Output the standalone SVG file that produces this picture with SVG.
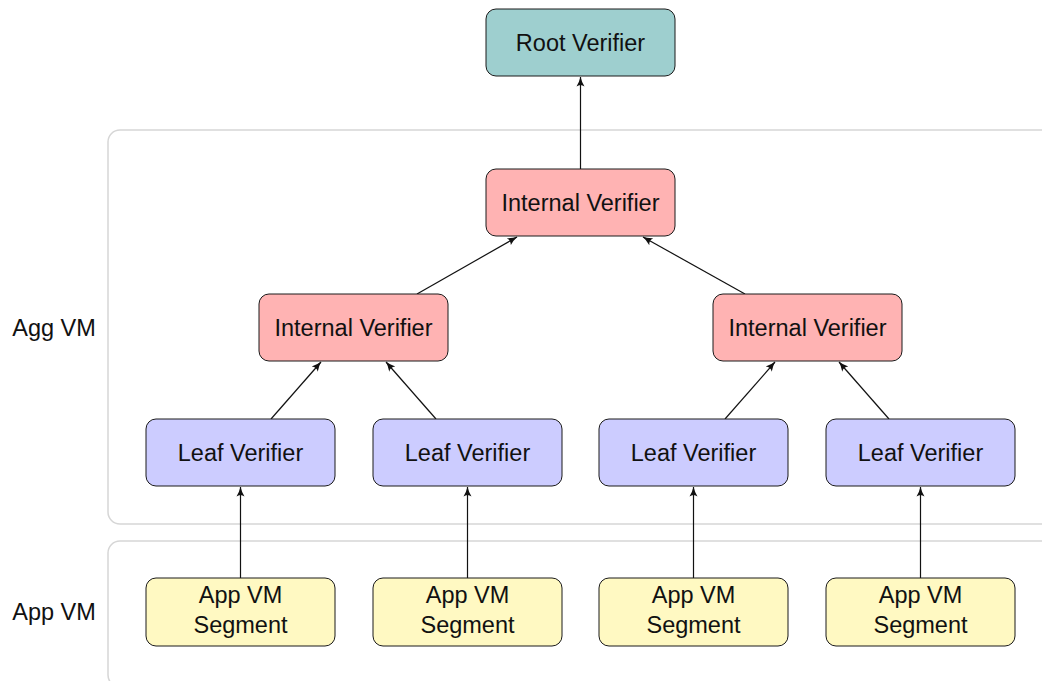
<svg xmlns="http://www.w3.org/2000/svg" width="1042" height="681" viewBox="0 0 1042 681">
<style>
.grp{fill:none;stroke:#d6d6d6;stroke-width:1.5}
.node rect{stroke:#1a1a1a;stroke-width:1}
.root rect{fill:#9ecfcf}
.int rect{fill:#ffb3b3}
.leaf rect{fill:#ccccff}
.app rect{fill:#fff9c2}
text{font-family:"Liberation Sans",Arial,sans-serif;font-size:23.5px;fill:#111;text-anchor:middle}
.conn line{stroke:#111;stroke-width:1.2;marker-end:url(#ah)}
</style>
<defs>
<marker id="ah" viewBox="0 0 10 10" refX="9.5" refY="5" markerWidth="10" markerHeight="10" markerUnits="userSpaceOnUse" orient="auto">
<path d="M0,1 Q5,4 10,5 Q5,6 0,9 Q3,5 0,1 Z" fill="#111"/>
</marker>
</defs>
<rect width="1042" height="681" fill="#fff"/>
<g id="groups">
<rect class="grp" x="108" y="130" width="960" height="394" rx="12"/>
<rect class="grp" x="108" y="541" width="960" height="146" rx="12"/>
<text x="54" y="336">Agg VM</text>
<text x="54" y="620">App VM</text>
</g>
<g id="connectors" class="conn">
<line x1="580.5" y1="169" x2="580.5" y2="77"/>
<line x1="417" y1="294" x2="517" y2="237"/>
<line x1="745" y1="294" x2="643" y2="237"/>
<line x1="271" y1="419" x2="321" y2="362"/>
<line x1="436" y1="419" x2="386" y2="362"/>
<line x1="725" y1="419" x2="775" y2="362"/>
<line x1="889" y1="419" x2="839" y2="362"/>
<line x1="240.5" y1="578" x2="240.5" y2="487"/>
<line x1="467.5" y1="578" x2="467.5" y2="487"/>
<line x1="693.5" y1="578" x2="693.5" y2="487"/>
<line x1="920.5" y1="578" x2="920.5" y2="487"/>
</g>
<g id="root" class="node root"><rect x="486" y="9" width="189" height="67" rx="10"/><text x="580.5" y="51">Root Verifier</text></g>
<g id="int-top" class="node int"><rect x="486" y="169" width="189" height="67" rx="10"/><text x="580.5" y="211">Internal Verifier</text></g>
<g id="int-left" class="node int"><rect x="259" y="294" width="189" height="67" rx="10"/><text x="353.5" y="336">Internal Verifier</text></g>
<g id="int-right" class="node int"><rect x="713" y="294" width="189" height="67" rx="10"/><text x="807.5" y="336">Internal Verifier</text></g>
<g id="leaf1" class="node leaf"><rect x="146" y="419" width="189" height="67" rx="10"/><text x="240.5" y="461">Leaf Verifier</text></g>
<g id="leaf2" class="node leaf"><rect x="373" y="419" width="189" height="67" rx="10"/><text x="467.5" y="461">Leaf Verifier</text></g>
<g id="leaf3" class="node leaf"><rect x="599" y="419" width="189" height="67" rx="10"/><text x="693.5" y="461">Leaf Verifier</text></g>
<g id="leaf4" class="node leaf"><rect x="826" y="419" width="189" height="67" rx="10"/><text x="920.5" y="461">Leaf Verifier</text></g>
<g id="app1" class="node app"><rect x="146" y="578" width="189" height="68" rx="10"/><text x="240.5" y="603">App VM</text><text x="240.5" y="633">Segment</text></g>
<g id="app2" class="node app"><rect x="373" y="578" width="189" height="68" rx="10"/><text x="467.5" y="603">App VM</text><text x="467.5" y="633">Segment</text></g>
<g id="app3" class="node app"><rect x="599" y="578" width="189" height="68" rx="10"/><text x="693.5" y="603">App VM</text><text x="693.5" y="633">Segment</text></g>
<g id="app4" class="node app"><rect x="826" y="578" width="189" height="68" rx="10"/><text x="920.5" y="603">App VM</text><text x="920.5" y="633">Segment</text></g>
</svg>
